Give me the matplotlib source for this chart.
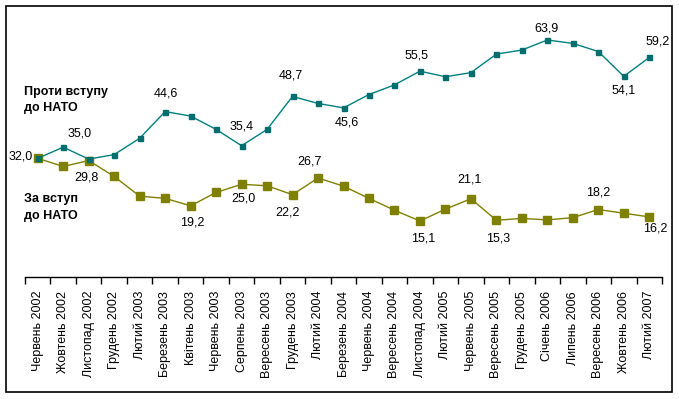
import matplotlib.pyplot as plt
import matplotlib.patches as patches

plt.rcParams['font.family'] = ['Liberation Sans', 'DejaVu Sans']

months = ["Червень 2002", "Жовтень 2002", "Листопад 2002", "Грудень 2002",
          "Лютий 2003", "Березень 2003", "Квітень 2003", "Червень 2003",
          "Серпень 2003", "Вересень 2003", "Грудень 2003", "Лютий 2004",
          "Березень 2004", "Червень 2004", "Вересень 2004", "Листопад 2004",
          "Лютий 2005", "Червень 2005", "Вересень 2005", "Грудень 2005",
          "Січень 2006", "Липень 2006", "Вересень 2006", "Жовтень 2006",
          "Лютий 2007"]

against = [32.0, 35.0, 31.8, 33.0, 37.4, 44.6, 43.4, 39.8, 35.4, 39.8,
           48.7, 46.8, 45.6, 49.2, 51.8, 55.5, 54.0, 55.1, 60.1, 61.2,
           63.9, 63.0, 60.8, 54.1, 59.2]
support = [32.0, 29.8, 31.4, 27.1, 21.8, 21.2, 19.2, 22.8, 25.0, 24.6,
           22.2, 26.7, 24.5, 21.2, 18.0, 15.1, 18.3, 21.1, 15.3, 15.8,
           15.4, 16.0, 18.2, 17.2, 16.2]

# which points get a value label, and where (offset in pixels)
against_labels = {0: (-17, 2), 1: (16, 14), 5: (1, 18), 8: (0, 19),
                  10: (-2, 21), 12: (3, -15), 15: (-3, 16), 20: (-1, 12),
                  23: (0, -14), 24: (8, 16)}
support_labels = {1: (23, -11), 6: (2, -17), 8: (2, -14), 10: (-5, -18),
                  11: (-9, 16), 15: (3, -17), 17: (-1, 19), 18: (2, -18),
                  22: (0, 17), 24: (6, -12)}

fig = plt.figure(figsize=(6.79, 3.99), dpi=100)
ax = fig.add_axes([25 / 679, 1 - 277 / 399, 637 / 679, 259.6 / 399])

x = list(range(len(months)))
ax.plot(x, support, color='#808000', lw=1, marker='s', ms=5.2,
        mfc='#808000', mec='#808000', zorder=2)
ax.plot(x, against, color='#008080', lw=1, marker='s', ms=3.6,
        mfc='#006e6e', mec='#006e6e', zorder=3)

for i, (dx, dy) in against_labels.items():
    ax.annotate(f"{against[i]:.1f}".replace('.', ','), (i, against[i]),
                xytext=(dx, dy), textcoords='offset pixels',
                ha='center', va='center', fontsize=9)
for i, (dx, dy) in support_labels.items():
    ax.annotate(f"{support[i]:.1f}".replace('.', ','), (i, support[i]),
                xytext=(dx, dy), textcoords='offset pixels',
                ha='center', va='center', fontsize=9)

ax.set_xlim(-0.5, len(months) - 0.5)
ax.set_ylim(0, 70)
ax.set_xticks(x)
ax.set_xticklabels(months, rotation=90, fontsize=9)
ax.set_xticks([i - 0.5 for i in range(len(months) + 1)], minor=True)
ax.tick_params(axis='x', which='major', length=0, pad=10)
ax.tick_params(axis='x', which='minor', length=5, width=1, direction='out')
ax.set_yticks([])
for side in ['left', 'right', 'top']:
    ax.spines[side].set_visible(False)
ax.spines['bottom'].set_linewidth(1)

fig.text(24 / 679, 1 - 100 / 399, "Проти вступу\nдо НАТО", fontsize=9,
         fontweight='bold', va='center', ha='left', linespacing=1.5)
fig.text(24 / 679, 1 - 207.5 / 399, "За вступ\nдо НАТО", fontsize=9,
         fontweight='bold', va='center', ha='left', linespacing=1.5)

fig.patches.append(patches.Rectangle((6 / 679, 1 - 392 / 399), 666 / 679,
                                     386 / 399, transform=fig.transFigure,
                                     fill=False, edgecolor='black', lw=1.2))

fig.savefig('out.png', dpi=100)
